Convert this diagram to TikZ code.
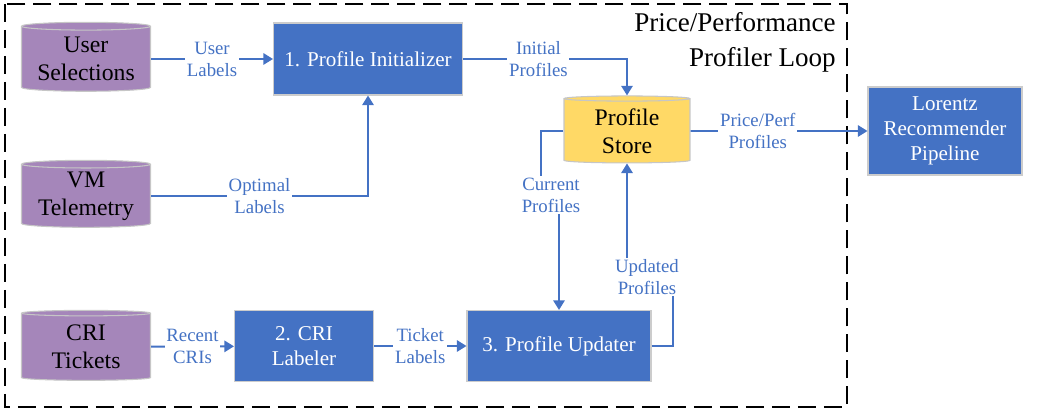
\documentclass[tikz,border=0pt]{standalone}
\usepackage{fontspec}
\setmainfont{Liberation Serif}
\newfontfamily\timesfont{Liberation Serif}
\usetikzlibrary{shapes.geometric,arrows.meta}
\definecolor{boxblue}{HTML}{4472C4}
\definecolor{dbpurple}{HTML}{A586BA}
\definecolor{storegold}{HTML}{FFD966}

\begin{document}
\begin{tikzpicture}[x=0.02cm,y=-0.02cm,
  db/.style={cylinder, shape border rotate=90, aspect=0.08,
    draw=gray!45, line width=0.6pt, fill=dbpurple, inner sep=0pt,
    align=center, font=\timesfont\fontsize{13.5}{15.9}\selectfont},
  proc/.style={rectangle, draw=gray!40, line width=0.6pt,
    fill=boxblue, text=white, align=center,
    font=\timesfont\fontsize{12}{14.2}\selectfont},
  flow/.style={draw=boxblue, line width=1.1pt,
    -{Triangle[length=5.5pt,width=6.5pt]}},
  lbl/.style={fill=white, text=boxblue, align=center, inner sep=1pt,
    font=\timesfont\fontsize{10.7}{12.5}\selectfont}]
  \useasboundingbox (0,0) rectangle (1038,411);
  \draw[line width=1.4pt, dash pattern=on 0.36cm off 0.16cm]
       (5,4) rectangle (847,407);
  \node[anchor=east, align=right, inner sep=0pt,
        font=\timesfont\fontsize{15.4}{19.9}\selectfont] (title) at (836,42)
       {Price/Performance\\Profiler Loop};
  \node[db, minimum width=2.58cm, minimum height=1.38cm] (usr) at (86,59)
       {User\\Selections};
  \node[db, minimum width=2.58cm, minimum height=1.34cm] (vmt) at (86,196)
       {VM\\Telemetry};
  \node[db, minimum width=2.58cm, minimum height=1.4cm] (cri) at (86,347)
       {CRI\\Tickets};
  \node[db, fill=storegold, minimum width=2.52cm, minimum height=1.34cm]
       (store) at (627,131) {Profile\\Store};
  \node[proc, minimum width=3.78cm, minimum height=1.44cm] (init)
       at (368,59) {1. Profile Initializer};
  \node[proc, minimum width=2.78cm, minimum height=1.42cm] (labeler)
       at (304,346) {2. CRI\\Labeler};
  \node[proc, minimum width=3.68cm, minimum height=1.42cm] (updater)
       at (559,346) {3. Profile Updater};
  \node[proc, minimum width=3.08cm, minimum height=1.76cm] (lorentz)
       at (945,131) {Lorentz\\Recommender\\Pipeline};
  \draw[flow] (usr) -- (init) node
       [lbl, midway] {User\\Labels};
  \draw[flow] (vmt.east) -| (init.south) node
       [lbl, pos=0.25] {Optimal\\Labels};
  \draw[flow] (init.east) -| (store.north) node
       [lbl, pos=0.23] {Initial\\Profiles};
  \draw[flow] (store) -- (lorentz) node
       [lbl, pos=0.38] {Price/Perf\\Profiles};
  \draw[flow] (cri) -- (labeler) node
       [lbl, midway] {Recent\\CRIs};
  \draw[flow] (labeler) -- (updater) node
       [lbl, midway] {Ticket\\Labels};
  \draw[flow] (store.west) -| (541,195) -| (updater.north);
  \node[lbl] (cur) at (551,195) {Current\\Profiles};
  \draw[flow] (updater.east) -| (673,277) -| (store.south);
  \node[lbl] (upd) at (647,277) {Updated\\Profiles};
\end{tikzpicture}
\end{document}
